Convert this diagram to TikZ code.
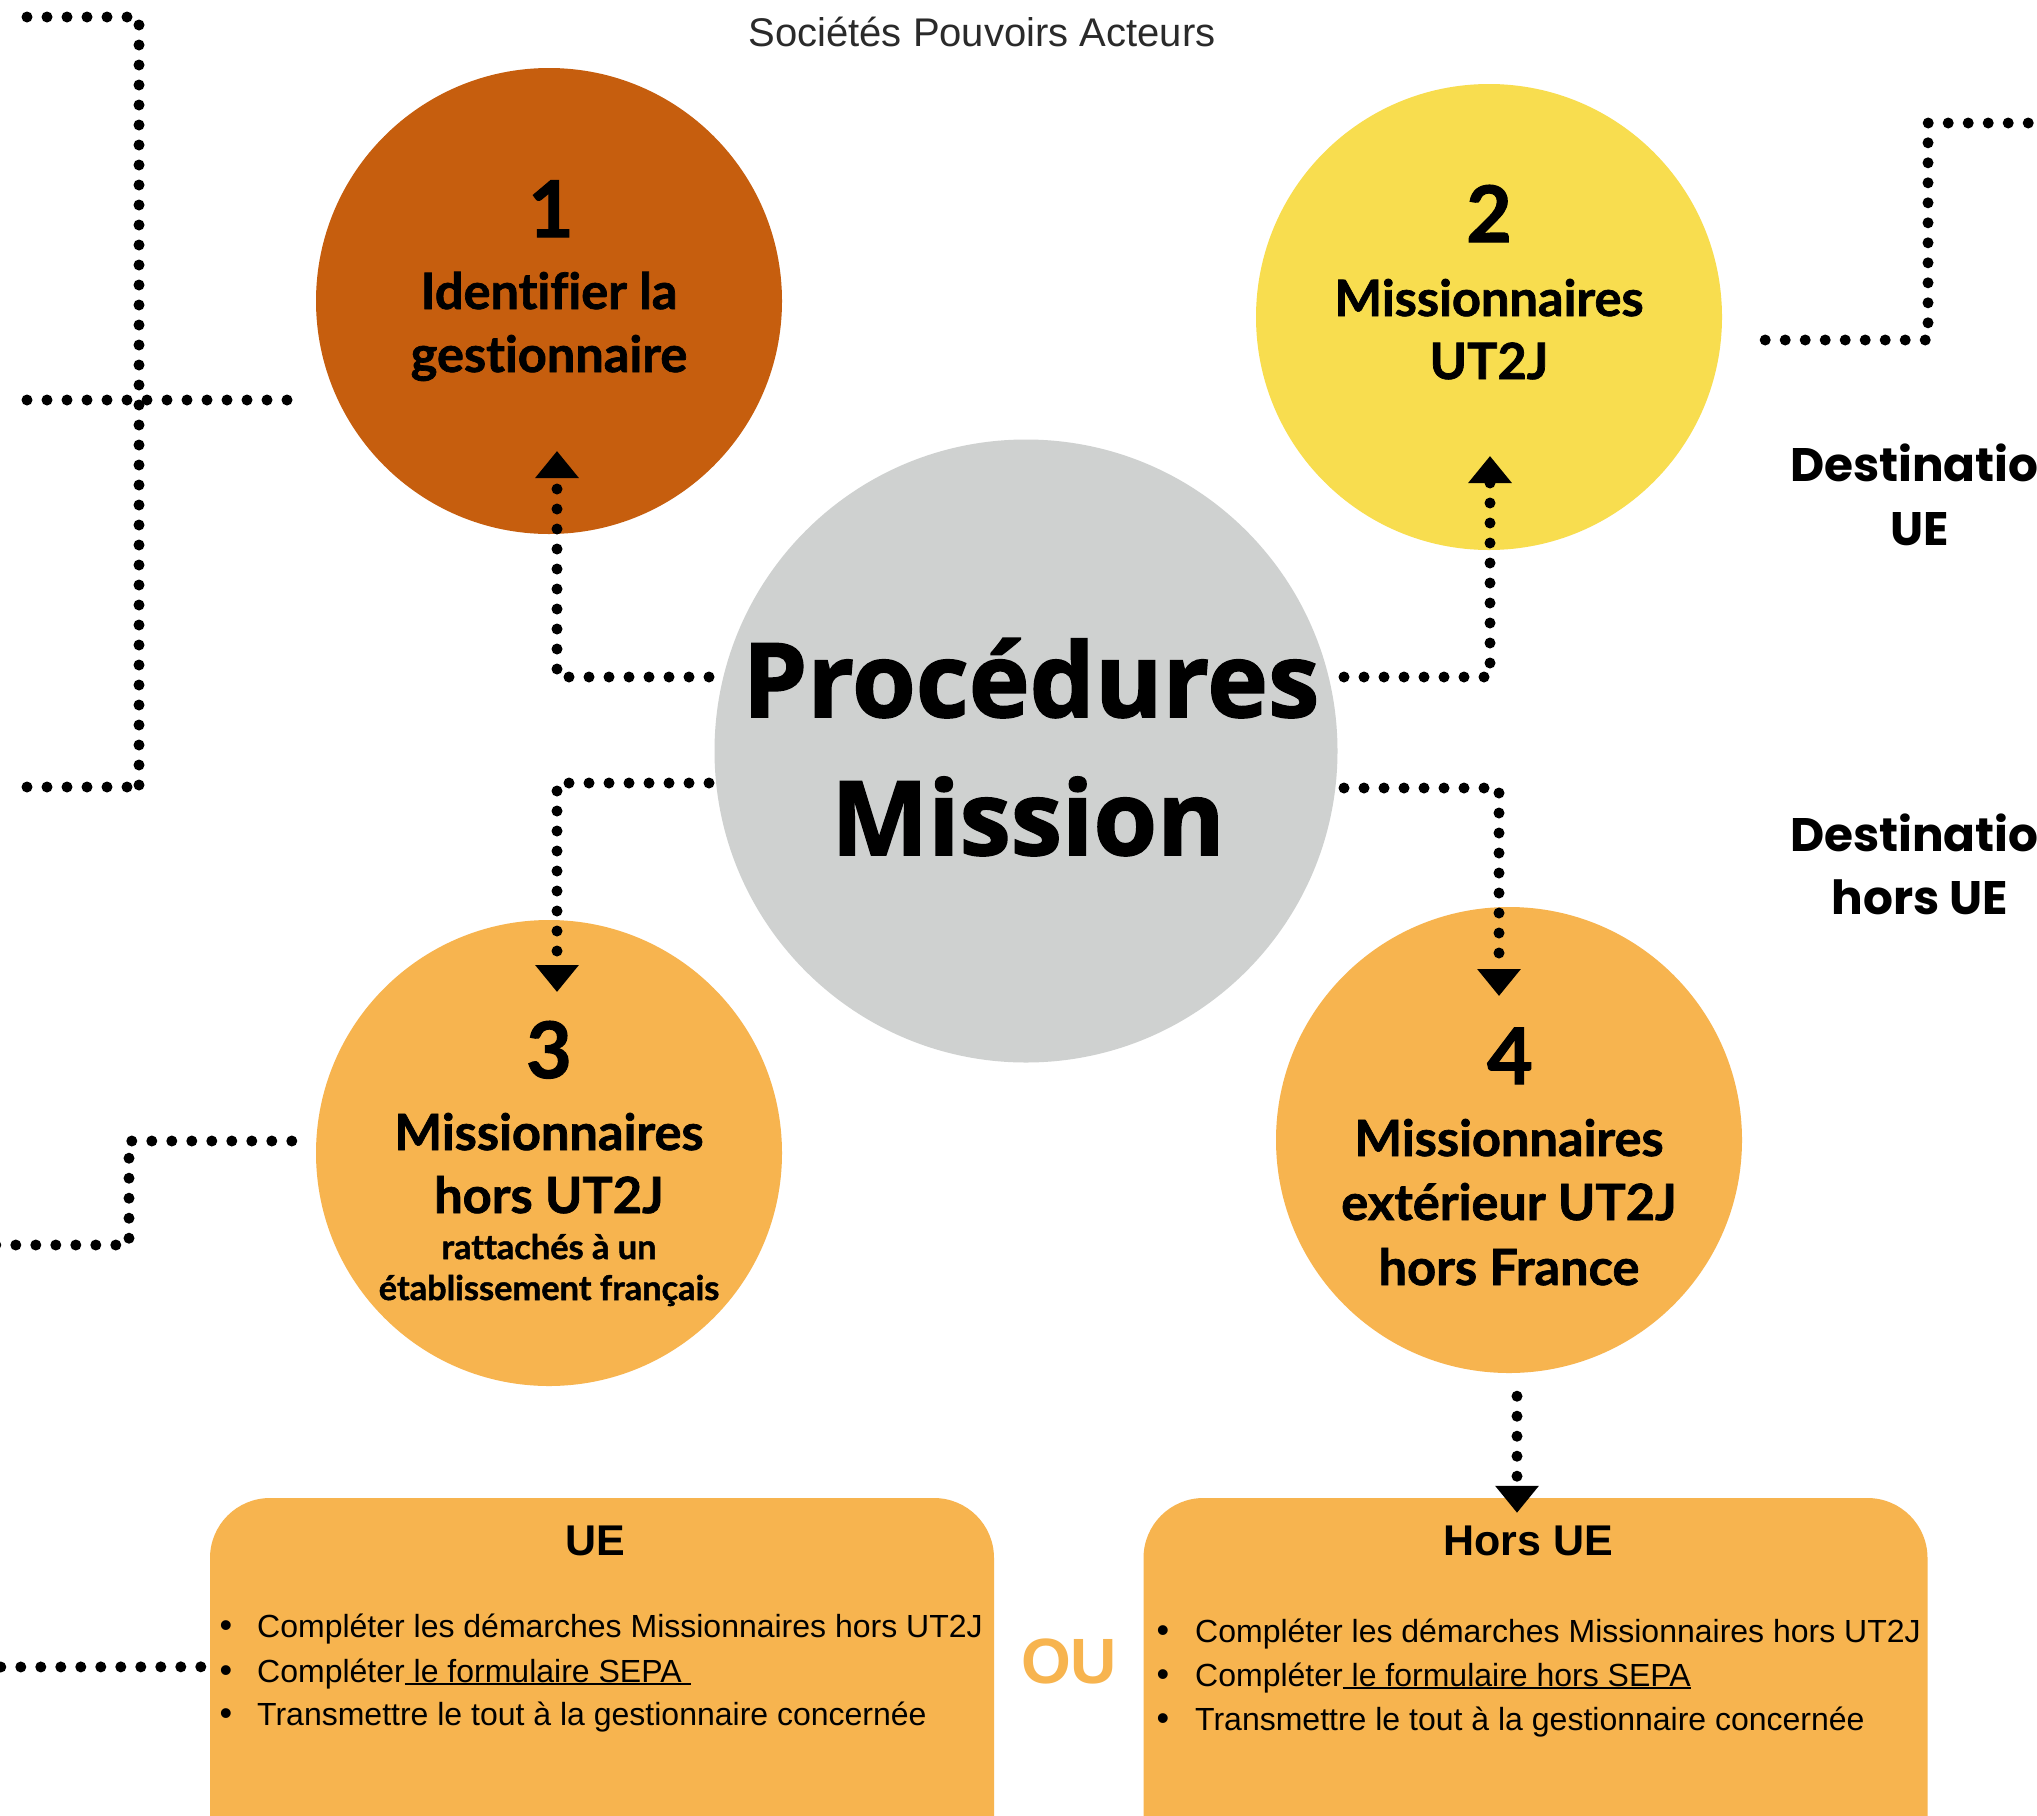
\documentclass[tikz,border=0pt]{standalone}
\usepackage{fontspec}
\setmainfont{Liberation Sans}
\newfontfamily\lato[Ligatures=NoCommon,BoldFeatures={FakeBold=1.4,FakeStretch=1.01}]{Lato}
\newfontfamily\opens[BoldFeatures={FakeBold=1.6}]{Open Sans}
\newfontfamily\popp{Poppins}
\usetikzlibrary{arrows.meta,calc}
\definecolor{cbrown}{HTML}{C65E0E}
\definecolor{cyellow}{HTML}{F8DD4F}
\definecolor{corange}{HTML}{F7B44F}
\definecolor{cgrey}{HTML}{CFD1D0}
\definecolor{cdark}{HTML}{2A2A2A}
\newcommand\myul[1]{\setbox0\hbox{#1}\rlap{\rule[-3pt]{\wd0}{1.8pt}}\box0}
\tikzset{
  circ/.style={circle, draw=none, inner sep=0pt, minimum size=466pt},
  dots/.style={line width=11pt, dash pattern=on 0pt off 20pt, line cap=round},
  conn/.style={dots, -{Triangle[width=42pt,length=27pt]}},
  box/.style={rectangle, rounded corners=60pt, fill=corange, draw=none, minimum width=784pt, minimum height=500pt, inner sep=0pt},
  txt/.style={anchor=base, inner sep=0pt, outer sep=0pt},
  num/.style={txt, font=\lato\bfseries\fontsize{78}{80}\selectfont},
  ctext/.style={txt, font=\lato\bfseries\fontsize{50}{55}\selectfont},
  csmall/.style={txt, font=\lato\bfseries\fontsize{34}{38}\selectfont},
  dest/.style={txt, font=\popp\bfseries\fontsize{47}{52}\selectfont},
  item/.style={anchor=base west, inner sep=0pt, font=\fontsize{32}{36}\selectfont},
  bul/.style={txt, font=\fontsize{36}{36}\selectfont},
  btitle/.style={txt, font=\bfseries\fontsize{43}{46}\selectfont},
}
\begin{document}
\begin{tikzpicture}[x=1pt,y=-1pt]
\useasboundingbox (0,0) rectangle (2037,1815);
\fill[white] (0,0) rectangle (2037,1815);
\clip (0,0) rectangle (2037,1815);

% header
\node[txt, text=cdark, font=\fontsize{40}{44}\selectfont] (hdr) at (982,46) {Sociétés Pouvoirs Acteurs};

% circles
\node[circ, fill=cbrown] (n1) at (549,301) {};
\node[circ, fill=cyellow] (n2) at (1489,317) {};
\node[circ, fill=corange] (n3) at (549,1153) {};
\node[circ, fill=corange] (n4) at (1509,1140) {};
\node[circ, fill=cgrey, minimum size=623pt] (c) at (1026,751) {};

% boxes
\node[box] (bue) at (602,1748) {};
\node[box] (bhors) at (1535.5,1748) {};

% circle texts
\node[num] (t1a) at (551,237) {1};
\node[ctext] (t1b) at (549,309) {Identifier la};
\node[ctext] (t1c) at (549,372) {gestionnaire};

\node[num] (t2a) at (1489,242) {2};
\node[ctext] (t2b) at (1489,316) {Missionnaires};
\node[ctext] (t2c) at (1489,379) {UT2J};

\node[num] (t3a) at (549,1078) {3};
\node[ctext] (t3b) at (549,1150) {Missionnaires};
\node[ctext] (t3c) at (549,1213) {hors UT2J};
\node[csmall] (t3d) at (549,1259) {rattachés à un};
\node[csmall] (t3e) at (549,1300) {établissement français};

\node[num] (t4a) at (1510,1084) {4};
\node[ctext] (t4b) at (1509,1156) {Missionnaires};
\node[ctext] (t4c) at (1509,1220) {extérieur UT2J};
\node[ctext] (t4d) at (1509,1285) {hors France};

\node[txt, font=\opens\bfseries\fontsize{103}{110}\selectfont] (tc1) at (1031,717) {Procédures};
\node[txt, font=\opens\bfseries\fontsize{103}{110}\selectfont] (tc2) at (1028,855) {Mission};

% destinations
\node[dest, anchor=base west] (d1) at (1790,481) {Destination};
\node[dest] (d1b) at (1920,545) {UE};
\node[dest, anchor=base west] (d2) at (1790,851) {Destination};
\node[dest] (d2b) at (1920,914) {hors UE};

% box contents
\node[btitle] (bt1) at (595,1555) {UE};
\node[bul] (b11) at (226,1637) {•};
\node[bul] (b12) at (226,1682) {•};
\node[bul] (b13) at (226,1725) {•};
\node[item] (i11) at (257,1637) {Compléter les démarches Missionnaires hors UT2J};
\node[item] (i12) at (257,1682) {Compléter\myul{ le formulaire SEPA }};
\node[item] (i13) at (257,1725) {Transmettre le tout à la gestionnaire concernée};

\node[btitle] (bt2) at (1528,1555) {Hors UE};
\node[bul] (b21) at (1163,1642) {•};
\node[bul] (b22) at (1163,1686) {•};
\node[bul] (b23) at (1163,1730) {•};
\node[item] (i21) at (1195,1642) {Compléter les démarches Missionnaires hors UT2J};
\node[item] (i22) at (1195,1686) {Compléter\myul{ le formulaire hors SEPA}};
\node[item] (i23) at (1195,1730) {Transmettre le tout à la gestionnaire concernée};

\node[txt, text=corange, font=\bfseries\fontsize{64}{66}\selectfont] (ou) at (1069,1683) {OU};

% connectors
\draw[conn] ($(c.center)+(-317,-74)$) -| ($(n1.center)+(8,150)$);
\draw[conn] ($(c.center)+(318,-74)$) -| ($(n2.center)+(1,139)$);
\draw[conn] ($(c.center)+(-317,32)$) -| ($(n3.center)+(8,-161)$);
\draw[conn] ($(c.center)+(318,37)$) -| ($(n4.center)+(-10,-144)$);
\draw[conn] ($(n4.south)+(8,23)$) -- ($(bhors.north)+(-18.5,15)$);

% decorative dotted lines
\draw[dots] (27,17) -- (139,17) -- (139,787);
\draw[dots] (27,787) -- (130,787);
\draw[dots] (27,400) -- (290,400);
\draw[dots] ($(n2.east)+(43,23)$) -- (1928,340) -- (1928,123) -- (2060,123);
\draw[dots] ($(n3.west)+(-24,-12)$) -- (129,1141) -- (129,1245) -- (-10,1245);
\draw[dots] ($(bue.north west)+(-9,169)$) -- (-10,1667);
\end{tikzpicture}
\end{document}
